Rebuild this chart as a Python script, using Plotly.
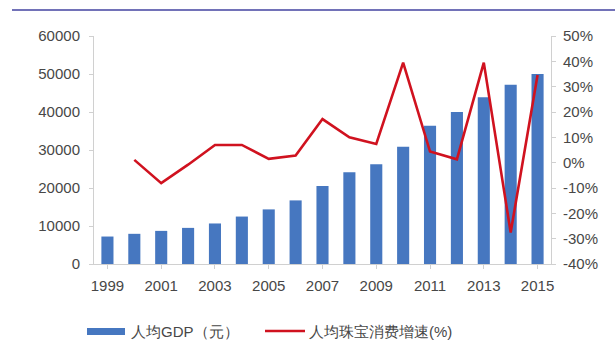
import plotly.graph_objects as go

# Per-capita GDP (yuan) and per-capita jewellery consumption growth (%)
years = [str(y) for y in range(1999, 2016)]
gdp_per_capita = [7229, 7942, 8717, 9506, 10666, 12487, 14368, 16738, 20505,
                  24121, 26222, 30876, 36403, 40007, 43852, 47203, 49992]
jewelry_growth_years = years[1:]
jewelry_growth = [1.1, -8.1, -0.8, 7.0, 7.0, 1.5, 2.8, 17.2, 10.0, 7.4,
                  39.5, 4.4, 1.3, 39.5, -27.6, 34.6]
tick_years = years[::2]
left_ticks = [0, 10000, 20000, 30000, 40000, 50000, 60000]
right_ticks = [-40, -30, -20, -10, 0, 10, 20, 30, 40, 50]
bar_name = "人均GDP（元）"
line_name = "人均珠宝消费增速(%)"

BLUE = "#4677c0"
RED = "#d0121f"
AXIS = "#d0d0d0"
TXT = "#474747"
FONT = "Liberation Sans, Arial, sans-serif"

fig = go.Figure()
fig.add_trace(go.Bar(x=years, y=gdp_per_capita, marker_color=BLUE,
                     marker_line_width=0, name=bar_name, showlegend=False))
fig.add_trace(go.Scatter(x=jewelry_growth_years, y=jewelry_growth, yaxis="y2",
                         mode="lines", line=dict(color=RED, width=2.6),
                         name=line_name, showlegend=False))

fig.update_layout(
    width=615, height=358,
    margin=dict(l=94, r=64, t=36, b=94),
    paper_bgcolor="white", plot_bgcolor="white",
    bargap=0.55,
    font=dict(family=FONT, size=15, color=TXT),
    xaxis=dict(type="category", tickvals=tick_years, ticktext=tick_years,
               showgrid=False, showline=True, linecolor=AXIS, linewidth=1,
               ticks="outside", ticklen=4, tickcolor=AXIS,
               ticklabelstandoff=4,
               tickfont=dict(size=15, color=TXT), zeroline=False),
    yaxis=dict(range=[0, 60000], tickvals=left_ticks,
               ticktext=[str(v) for v in left_ticks],
               showgrid=False, showline=True, linecolor=AXIS, linewidth=1,
               ticks="outside", ticklen=4, tickcolor=AXIS, zeroline=False,
               ticklabelstandoff=6,
               tickfont=dict(size=15, color=TXT)),
    yaxis2=dict(range=[-40, 50], overlaying="y", side="right",
                tickvals=right_ticks, ticktext=[f"{v}%" for v in right_ticks],
                showgrid=False, showline=True, linecolor=AXIS, linewidth=1,
                ticks="outside", ticklen=4, tickcolor=AXIS, zeroline=False,
                ticklabelstandoff=4,
                tickfont=dict(size=15, color=TXT)),
)

# Header rule across the top of the page
fig.add_shape(type="line", xref="paper", yref="paper",
              x0=(12 - 94) / 457, x1=(615 - 94) / 457,
              y0=(264 - 10) / 228, y1=(264 - 10) / 228,
              line=dict(color="#7272b8", width=2))

# Legend drawn below the plot area
def px_x(p):
    return (p - 94) / 457

def px_y(p):
    return (264 - p) / 228

fig.add_shape(type="rect", xref="paper", yref="paper",
              x0=px_x(87), x1=px_x(125), y0=px_y(335), y1=px_y(328),
              fillcolor=BLUE, line_width=0)
fig.add_annotation(xref="paper", yref="paper", x=px_x(129), y=px_y(331),
                   text=bar_name, showarrow=False, xanchor="left",
                   yanchor="middle", font=dict(size=15, color=TXT))
fig.add_shape(type="line", xref="paper", yref="paper",
              x0=px_x(265), x1=px_x(305), y0=px_y(331), y1=px_y(331),
              line=dict(color=RED, width=2.6))
fig.add_annotation(xref="paper", yref="paper", x=px_x(307), y=px_y(331),
                   text=line_name, showarrow=False, xanchor="left",
                   yanchor="middle", font=dict(size=15, color=TXT))

fig.write_html("out.html")
